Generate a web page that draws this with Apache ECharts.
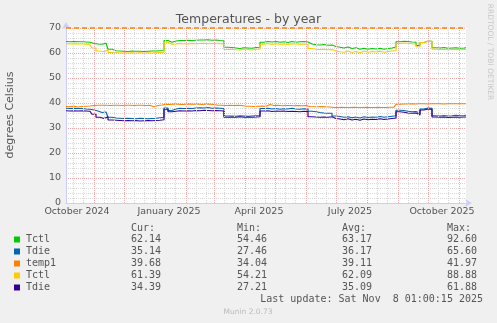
<!DOCTYPE html>
<html>
<head>
<meta charset="utf-8">
<script src="https://cdn.jsdelivr.net/npm/echarts@6/dist/echarts.min.js"></script>
<style>
html,body{margin:0;padding:0;background:#f0f0f0;}
#chart{width:497px;height:323px;}
</style>
</head>
<body>
<div id="chart"></div>
<script>
// ---- data ----
const startDate = '2024-10-04T01:00:00Z';   // first RRD row (400 days before last update)
const endDate = '2025-11-08T01:00:00Z';     // last update
const sampleStepDays = 4;                    // consolidated rows

const tctl1 = [
  64.6, 64.5, 64.6, 64.5, 64.5, 64.4, 64.3, 63.8, 63.6, 63.5,
  63.9, 61.5, 60.9, 60.8, 60.7, 60.6, 60.8, 60.7, 60.7, 60.6,
  60.7, 60.8, 60.8, 60.9, 61.0, 65.0, 64.3, 64.8, 65.0, 65.0,
  65.1, 65.0, 65.1, 65.2, 65.2, 65.3, 65.1, 65.2, 65.0, 64.9,
  62.3, 62.2, 62.0, 61.8, 62.1, 62.0, 61.9, 62.2, 62.3, 64.3,
  64.6, 64.4, 64.6, 64.3, 64.5, 64.2, 64.6, 64.3, 64.5, 64.6,
  64.4, 63.6, 63.3, 63.2, 63.4, 63.1, 63.2, 62.6, 62.3, 62.0,
  62.4, 61.8, 62.1, 61.5, 61.9, 61.5, 61.8, 61.6, 61.9, 61.5,
  61.8, 62.0, 62.4, 64.5, 64.7, 64.6, 64.4, 64.3, 63.0, 64.2,
  64.8, 64.7, 62.1, 62.0, 62.2, 61.9, 62.0, 62.1, 61.9, 62.0,
  62.1
];
const tdie1 = [
  37.9, 37.8, 37.9, 37.8, 37.8, 37.6, 37.5, 37.2, 36.8, 36.2,
  36.4, 34.3, 34.0, 33.9, 33.8, 33.9, 33.8, 33.7, 33.9, 33.8,
  33.7, 33.8, 33.9, 34.1, 34.3, 38.0, 37.0, 37.6, 37.9, 37.8,
  37.9, 37.8, 38.0, 38.1, 38.0, 38.2, 37.9, 38.0, 37.9, 37.8,
  34.8, 34.8, 34.7, 34.9, 34.8, 34.7, 34.8, 34.9, 35.0, 37.8,
  37.9, 37.6, 37.8, 37.5, 37.7, 37.6, 37.9, 37.6, 37.5, 37.7,
  37.6, 36.7, 36.5, 36.2, 36.0, 35.9, 35.9, 34.8, 34.6, 34.3,
  34.5, 34.1, 34.4, 34.0, 34.5, 34.2, 34.4, 34.3, 34.6, 34.3,
  34.5, 34.7, 34.9, 37.1, 37.0, 36.7, 36.5, 36.6, 35.9, 37.6,
  38.0, 37.9, 34.9, 34.8, 35.0, 34.8, 34.9, 35.1, 34.9, 35.0,
  35.1
];
const temp1 = [
  38.6, 38.5, 38.7, 38.4, 38.6, 38.7, 38.8, 39.0, 39.1, 39.1,
  39.1, 39.0, 39.1, 39.1, 39.0, 39.1, 39.1, 39.0, 39.1, 39.1,
  39.0, 39.1, 38.5, 39.0, 39.2, 39.5, 39.4, 39.6, 39.5, 39.4,
  39.5, 39.6, 39.5, 39.6, 39.4, 39.6, 39.5, 39.4, 39.1, 39.1,
  39.0, 39.1, 39.0, 39.1, 39.0, 38.7, 38.7, 38.6, 38.7, 38.8,
  38.7, 39.4, 39.0, 39.1, 38.9, 39.0, 39.0, 38.9, 39.0, 38.9,
  39.0, 38.6, 38.5, 38.5, 38.6, 38.5, 38.4, 38.2, 38.2, 38.3,
  38.2, 38.2, 38.3, 38.2, 38.2, 38.3, 38.2, 38.2, 38.3, 38.2,
  38.2, 38.3, 38.3, 39.5, 39.6, 39.6, 39.7, 39.6, 39.7, 39.7,
  39.6, 39.7, 39.7, 39.7, 39.6, 39.7, 39.7, 39.7, 39.7, 39.7,
  39.7
];
const tctl2 = [
  63.7, 63.6, 63.7, 63.6, 63.6, 63.5, 63.3, 62.0, 60.8, 60.5,
  61.3, 60.2, 60.2, 60.0, 60.1, 60.0, 60.1, 60.0, 60.1, 60.0,
  60.1, 60.0, 60.1, 60.2, 60.3, 64.3, 63.5, 63.6, 63.8, 63.7,
  63.6, 63.8, 63.7, 63.8, 63.9, 63.7, 63.8, 63.8, 63.7, 63.6,
  61.4, 61.5, 61.3, 61.2, 61.6, 61.4, 61.2, 61.5, 61.6, 63.5,
  63.8, 63.4, 63.7, 63.5, 63.6, 63.4, 63.7, 63.6, 63.5, 63.6,
  63.4, 61.8, 61.5, 61.4, 61.5, 61.3, 61.4, 60.8, 60.5, 60.3,
  60.8, 60.2, 60.6, 60.1, 60.7, 60.3, 60.6, 60.4, 60.7, 60.3,
  60.6, 60.8, 61.0, 63.8, 64.0, 63.9, 63.7, 63.6, 62.5, 64.2,
  64.7, 64.6, 61.5, 61.4, 61.5, 61.3, 61.4, 61.5, 61.3, 61.4,
  61.4
];
const tdie2 = [
  36.9, 36.8, 36.9, 36.8, 36.9, 36.8, 36.7, 35.5, 34.3, 33.8,
  34.5, 33.2, 33.1, 33.0, 32.9, 33.0, 32.9, 33.0, 32.8, 32.9,
  33.0, 32.9, 33.0, 33.1, 33.3, 37.5, 36.5, 36.7, 36.9, 36.8,
  36.9, 36.8, 37.0, 36.9, 37.1, 37.0, 36.9, 37.0, 36.9, 36.8,
  34.3, 34.4, 34.3, 34.5, 34.3, 34.4, 34.3, 34.4, 34.5, 36.8,
  36.9, 36.6, 36.8, 36.7, 36.8, 36.6, 36.7, 36.6, 36.5, 36.7,
  36.6, 34.5, 34.4, 34.3, 34.4, 34.3, 34.5, 33.8, 33.6, 33.3,
  33.7, 33.2, 33.5, 33.1, 33.6, 33.3, 33.5, 33.4, 33.7, 33.4,
  33.6, 33.8, 34.0, 36.5, 36.3, 36.0, 35.9, 36.0, 35.2, 37.2,
  37.6, 37.5, 34.4, 34.3, 34.4, 34.2, 34.3, 34.4, 34.3, 34.4,
  34.4
];

const seriesNames  = ['Tctl', 'Tdie', 'temp1', 'Tctl', 'Tdie'];
const seriesColors = ['#00cc00', '#0066b3', '#ff8000', '#ffcc00', '#330099'];
const curValues = [62.14, 35.14, 39.68, 61.39, 34.39];
const minValues = [54.46, 27.46, 34.04, 54.21, 27.21];
const avgValues = [63.17, 36.17, 39.11, 62.09, 35.09];
const maxValues = [92.60, 65.60, 41.97, 88.88, 61.88];
const temp1Warning = 70;

const xTickLabels = [
  ['2024-10-15', 'October 2024'],
  ['2025-01-15', 'January 2025'],
  ['2025-04-15', 'April 2025'],
  ['2025-07-15', 'July 2025'],
  ['2025-10-15', 'October 2025']
];
const yTickValues = [0, 10, 20, 30, 40, 50, 60, 70];

const titleText = 'Temperatures - by year';
const yAxisTitle = 'degrees Celsius';
const lastUpdate = 'Last update: Sat Nov  8 01:00:15 2025';
const footer = 'Munin 2.0.73';
const sideText = 'RRDTOOL / TOBI OETIKER';

// ---- helpers ----
const DAY = 86400000;
const t0 = Date.parse(startDate);
const spanDays = (Date.parse(endDate) - t0) / DAY;
const dayOf = s => (Date.parse(s + 'T01:00:00Z') - t0) / DAY;
const toPairs = arr => arr.map((v, i) => [i * sampleStepDays, v]);

const labelDays = xTickLabels.map(d => dayOf(d[0]));
const labelByDay = {};
xTickLabels.forEach(d => { labelByDay[dayOf(d[0])] = d[1]; });

// vertical grid: month starts (major), 11th and 21st (minor)
const gridLines = [];
for (let y = 2024, m = 9; y < 2026; ) {
  [1, 11, 21].forEach(day => {
    const iso = y + '-' + String(m + 1).padStart(2, '0') + '-' + String(day).padStart(2, '0');
    const d = dayOf(iso);
    if (d > 0 && d < spanDays) {
      gridLines.push({
        xAxis: d,
        lineStyle: day === 1 ? { color: '#eeaaaa', type: [1, 1], width: 1 } : { color: '#d8d8d8', type: [1, 1], width: 1 }
      });
    }
  });
  m++; if (m > 11) { m = 0; y++; }
  if (y === 2025 && m > 10) break;
}

const FONT = '"DejaVu Sans", sans-serif';
const MONO = '"DejaVu Sans Mono", monospace';
const TXT = '#555555';

const dataSeries = [tctl1, tdie1, temp1, tctl2, tdie2].map((arr, i) => {
  const s = {
    name: seriesNames[i] + i,
    type: 'line',
    data: toPairs(arr),
    step: 'middle',
    showSymbol: false,
    symbol: 'none',
    z: 3,
    lineStyle: { color: seriesColors[i], width: 1.2 },
    itemStyle: { color: seriesColors[i] }
  };
  if (i === 2) {
    s.markLine = {
      silent: true, symbol: 'none', label: { show: false },
      lineStyle: { color: seriesColors[2], type: [5, 3], width: 1.5 },
      data: [{ yAxis: temp1Warning }]
    };
  }
  return s;
});

// ---- legend as graphics ----
const graphics = [];
const rowY = [239.5, 251.5, 263.5, 275.5, 287.5];
const colX = [131, 237, 342, 447];
const headers = ['Cur:', 'Min:', 'Avg:', 'Max:'];
const txt = (x, y, text, extra) => Object.assign({
  type: 'text', x: x, y: y, silent: true,
  style: Object.assign({ text: text, font: '10px ' + MONO, fill: TXT,
    textAlign: 'left', textVerticalAlign: 'middle', align: 'left', verticalAlign: 'middle' }, extra || {})
}, {});
headers.forEach((h, j) => graphics.push(txt(colX[j], 228, h)));
seriesNames.forEach((n, i) => {
  graphics.push({ type: 'rect', silent: true, shape: { x: 14, y: rowY[i] - 3, width: 6, height: 6 },
    style: { fill: seriesColors[i] } });
  graphics.push(txt(26, rowY[i], n));
  [curValues, minValues, avgValues, maxValues].forEach((arr, j) => {
    graphics.push(txt(colX[j], rowY[i], arr[i].toFixed(2)));
  });
});
graphics.push(txt(483, 299.5, lastUpdate, { textAlign: 'right', align: 'right' }));
graphics.push(txt(248, 312, footer, { font: '7.5px ' + FONT, fill: '#bbbbbb', textAlign: 'center', align: 'center' }));
graphics.push({
  type: 'text', x: 10, y: 115, rotation: Math.PI / 2, silent: true,
  style: { text: yAxisTitle, font: '11px ' + FONT, fill: TXT, textAlign: 'center', align: 'center',
    textVerticalAlign: 'middle', verticalAlign: 'middle' }
});
graphics.push({
  type: 'text', x: 490, y: 52, rotation: -Math.PI / 2, silent: true,
  style: { text: sideText, font: '7.5px ' + FONT, fill: '#c8c8c8', textAlign: 'center', align: 'center',
    textVerticalAlign: 'middle', verticalAlign: 'middle' }
});

const chart = echarts.init(document.getElementById('chart'), null, { renderer: 'canvas' });
chart.setOption({
  backgroundColor: '#f0f0f0',
  animation: false,
  title: {
    text: titleText, left: 'center', top: 8,
    textStyle: { fontFamily: FONT, fontSize: 12.5, fontWeight: 'normal', color: TXT }
  },
  grid: { left: 66, right: 31, top: 28, bottom: 120, show: true, backgroundColor: '#ffffff', borderWidth: 0 },
  xAxis: {
    type: 'value', min: 0, max: spanDays,
    axisLine: { show: true, lineStyle: { color: '#ccccff' }, symbol: ['none', 'arrow'], symbolSize: [6, 7], symbolOffset: [0, 6] },
    axisTick: { show: false },
    splitLine: { show: false },
    axisLabel: {
      customValues: labelDays,
      formatter: v => labelByDay[v] || '',
      color: TXT, fontFamily: FONT, fontSize: 9.5, margin: 4
    }
  },
  yAxis: {
    type: 'value', min: 0, max: 70, interval: 10,
    axisLine: { show: true, onZero: false, lineStyle: { color: '#ccccff' }, symbol: ['none', 'arrow'], symbolSize: [6, 7], symbolOffset: [0, 6] },
    axisTick: { show: false },
    axisLabel: { color: TXT, fontFamily: FONT, fontSize: 9.5, margin: 5,
      formatter: v => (yTickValues.indexOf(v) >= 0 ? String(v) : '') },
    splitLine: { show: true, lineStyle: { color: '#eeaaaa', type: [1, 1], width: 1 } },
    minorTick: { show: false, splitNumber: 5 },
    minorSplitLine: { show: true, lineStyle: { color: '#d8d8d8', type: [1, 1], width: 1 } }
  },
  graphic: graphics,
  series: [{
    name: 'grid', type: 'line', data: [], z: 1, silent: true,
    markLine: { silent: true, symbol: 'none', label: { show: false }, animation: false, data: gridLines }
  }].concat(dataSeries)
});
</script>
</body>
</html>
